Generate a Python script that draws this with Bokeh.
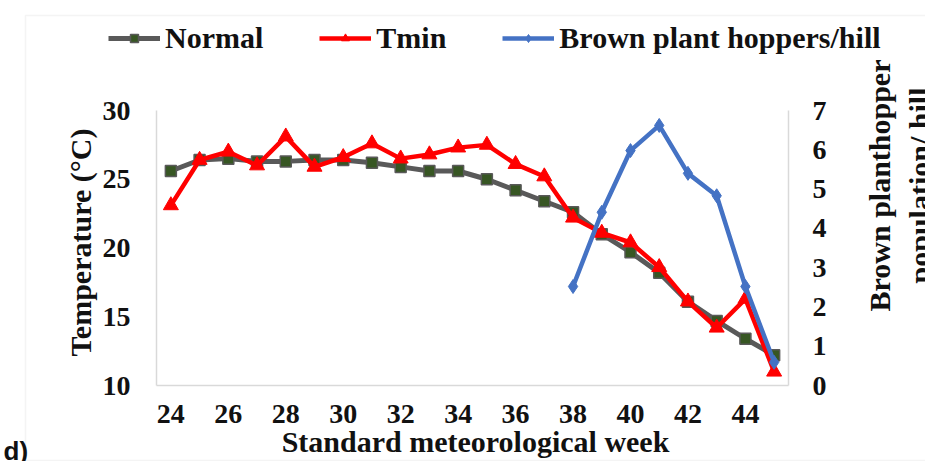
import math
from bokeh.plotting import figure
from bokeh.models import (Range1d, LinearAxis, FixedTicker, Legend, LegendItem,
                          ColumnDataSource, Label, BoxAnnotation)
from bokeh.embed import file_html
from bokeh.resources import INLINE

# ---- data ----
weeks = list(range(24, 46))
normal = [25.6, 26.4, 26.5, 26.3, 26.3, 26.4, 26.4, 26.2, 25.9, 25.6, 25.6,
          25.0, 24.2, 23.4, 22.6, 21.0, 19.7, 18.2, 16.1, 14.7, 13.4, 12.2]
tmin = [23.1, 26.4, 27.0, 26.0, 28.1, 25.9, 26.6, 27.6, 26.5, 26.8, 27.3,
        27.5, 26.1, 25.2, 22.2, 21.1, 20.4, 18.6, 16.1, 14.2, 16.3, 11.0]
bph_weeks = [38, 39, 40, 41, 42, 43, 44, 45]
bph = [2.52, 4.41, 5.98, 6.62, 5.40, 4.83, 2.52, 0.59]
x_ticks = [24, 26, 28, 30, 32, 34, 36, 38, 40, 42, 44]
temp_ticks = [10, 15, 20, 25, 30]
bph_ticks = [0, 1, 2, 3, 4, 5, 6, 7]
series_names = ["Normal", "Tmin", "Brown plant hoppers/hill"]
x_title = "Standard meteorological week"
y_title = "Temperature (°C)"
y2_title = ["Brown planthopper", "population/ hill"]
panel_tag = "d)"

FONT = "Liberation Serif"
FS = "28px"
TS = "30px"
GRID = "#d9d9d9"
INK = "#111111"

# The frame covers the whole canvas; axes sit at fixed data locations
# (plot area spans weeks 23.5..45.5, 10..30 degC and 0..7 hoppers).
W, H = 925, 461
PL, PR, PT, PB = 156, 788, 110, 385          # plot-area box in pixels
xs = (PR - PL) / (45.5 - 23.5)
ys = (PB - PT) / (30 - 10)
bs = (PB - PT) / 7
x_range = Range1d(23.5 - PL / xs, 45.5 + (W - PR) / xs)
y_range = Range1d(10 - (H - PB) / ys, 30 + PT / ys)
b_range = Range1d(0 - (H - PB) / bs, 7 + PT / bs)

p = figure(width=W, height=H, output_backend="svg", toolbar_location=None,
           x_range=x_range, y_range=y_range,
           frame_width=W, frame_height=H,
           min_border_left=0, min_border_right=0,
           min_border_top=0, min_border_bottom=0)
p.extra_y_ranges = {"bph": b_range}
p.outline_line_color = None
p.xgrid.visible = False
p.ygrid.visible = False


def style_axis(ax, ticks, standoff):
    ax.ticker = FixedTicker(ticks=ticks)
    ax.major_tick_in = 0
    ax.major_tick_out = 0
    ax.minor_tick_in = 0
    ax.minor_tick_out = 0
    ax.axis_line_color = GRID
    ax.axis_line_width = 1.5
    ax.major_label_text_font = FONT
    ax.major_label_text_font_style = "bold"
    ax.major_label_text_font_size = FS
    ax.major_label_text_color = INK
    ax.major_label_standoff = standoff


xa = p.xaxis[0]
style_axis(xa, x_ticks, 19)
xa.bounds = (23.5, 45.5)
xa.fixed_location = 10

ya = p.yaxis[0]
style_axis(ya, temp_ticks, 26)
ya.bounds = (10, 30)
ya.fixed_location = 23.5

raxis = LinearAxis(y_range_name="bph", bounds=(0, 7), fixed_location=45.5)
style_axis(raxis, bph_ticks, 24)
p.add_layout(raxis, "right")

# outer chart border
p.add_layout(BoxAnnotation(left=25, right=W + 10, top=15, bottom=460,
                           left_units="canvas", right_units="canvas",
                           top_units="canvas", bottom_units="canvas",
                           fill_alpha=0, line_color=GRID, line_width=1.5,
                           level="underlay"))

src_n = ColumnDataSource(dict(x=weeks, y=normal))
src_t = ColumnDataSource(dict(x=weeks, y=tmin))
src_b = ColumnDataSource(dict(x=bph_weeks, y=bph))

ln = p.line("x", "y", source=src_n, line_color="#595959", line_width=5)
mn = p.scatter("x", "y", source=src_n, marker="square", size=11,
               fill_color="#375623", line_color="#595959", line_width=1.5)
lt = p.line("x", "y", source=src_t, line_color="#ff0000", line_width=4.5)
mt = p.scatter("x", "y", source=src_t, marker="triangle", size=15,
               fill_color="#ff0000", line_color="#ff0000")
lb = p.line("x", "y", source=src_b, line_color="#4472c4", line_width=4.5,
            y_range_name="bph")
mb = p.scatter("x", "y", source=src_b, marker="diamond", size=14,
               fill_color="#4472c4", line_color="#4472c4", y_range_name="bph")

legend = Legend(items=[LegendItem(label=series_names[0], renderers=[ln, mn]),
                       LegendItem(label=series_names[1], renderers=[lt, mt]),
                       LegendItem(label=series_names[2], renderers=[lb, mb])],
                orientation="horizontal", location=(108, H - 55),
                label_text_font=FONT, label_text_font_style="bold",
                label_text_font_size=TS, label_text_color=INK,
                glyph_width=52, glyph_height=20, label_standoff=5,
                spacing=56, padding=0, margin=0,
                border_line_color=None, background_fill_alpha=0)
p.add_layout(legend, "center")


def title(text, x, y, angle=0.0, align="center", baseline="middle",
          font=FONT, size=TS):
    p.add_layout(Label(x=x, y=y, x_units="canvas", y_units="canvas",
                       text=text, angle=angle, text_align=align,
                       text_baseline=baseline, text_font=font,
                       text_font_style="bold", text_font_size=size,
                       text_color=INK))


title(y_title, 80, 242, angle=math.pi / 2)
title(y2_title[0], 879, 185, angle=math.pi / 2)
title(y2_title[1], 919, 185, angle=math.pi / 2)
title(x_title, 475, 441, baseline="alphabetic")
title(panel_tag, 3, 450, align="left", baseline="alphabetic",
      font="Liberation Sans", size="26px")

open("out.html", "w").write(file_html(p, INLINE))
